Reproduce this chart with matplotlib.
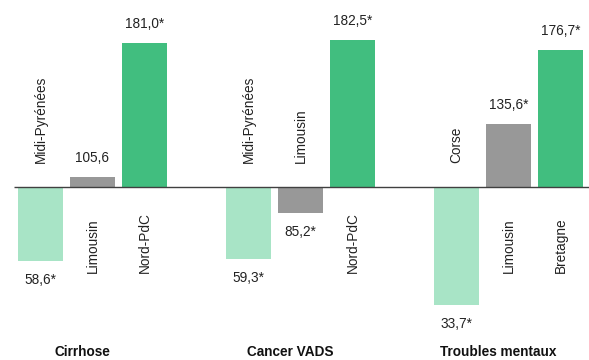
import matplotlib
matplotlib.use("Agg")
import matplotlib.pyplot as plt
from matplotlib import font_manager as fm

groups = ["Cirrhose", "Cancer VADS", "Troubles mentaux"]
regions = [["Midi-Pyrénées", "Limousin", "Nord-PdC"],
           ["Midi-Pyrénées", "Limousin", "Nord-PdC"],
           ["Corse", "Limousin", "Bretagne"]]
values = [[58.6, 105.6, 181.0],
          [59.3, 85.2, 182.5],
          [33.7, 135.6, 176.7]]
labels = [["58,6*", "105,6", "181,0*"],
          ["59,3*", "85,2*", "182,5*"],
          ["33,7*", "135,6*", "176,7*"]]
colors = ["#A8E4C6", "#989898", "#41BE7F"]
base = 100

names = {f.name for f in fm.fontManager.ttflist}
fam = ["Liberation Sans Narrow", "Liberation Sans", "DejaVu Sans"]
fam = [f for f in fam if f in names] or ["DejaVu Sans"]
plt.rcParams["font.family"] = fam

fig = plt.figure(figsize=(5.89, 3.60), dpi=100)
ax = fig.add_axes([0, 0, 1, 1])
ax.set_axis_off()
pxu = 1.78  # px per unit
ax.set_ylim(base - 173 / pxu, base + 187 / pxu)
ax.set_xlim(-40.5 / 52, (589 - 40.5) / 52)

w = 0.865
fs = 9.8
for g in range(3):
    for i in range(3):
        x = g * 4 + i
        v = values[g][i]
        ax.bar(x, v - base, bottom=base, width=w, color=colors[i], zorder=2)
        off = 12 / pxu
        if v >= base:
            ax.text(x, v + off, labels[g][i], ha="center", va="bottom", fontsize=fs, color="#222222")
            ax.text(x, base - 86 / pxu, regions[g][i], rotation=90, ha="center", va="bottom",
                    fontsize=fs, color="#222222")
        else:
            ax.text(x, v - off, labels[g][i], ha="center", va="top", fontsize=fs, color="#222222")
            ax.text(x, base + 24 / pxu, regions[g][i], rotation=90, ha="center", va="bottom",
                    fontsize=fs, color="#222222")
    ax.text(g * 4 + 1 - 0.19, base - 165 / pxu, groups[g], ha="center", va="center",
            fontsize=9.8, fontweight="bold", color="#111111")

ax.hlines(base, (14 - 40.5) / 52, (589 - 40.5) / 52, color="#404040", linewidth=1, zorder=3)

fig.savefig("out.png", dpi=100)
